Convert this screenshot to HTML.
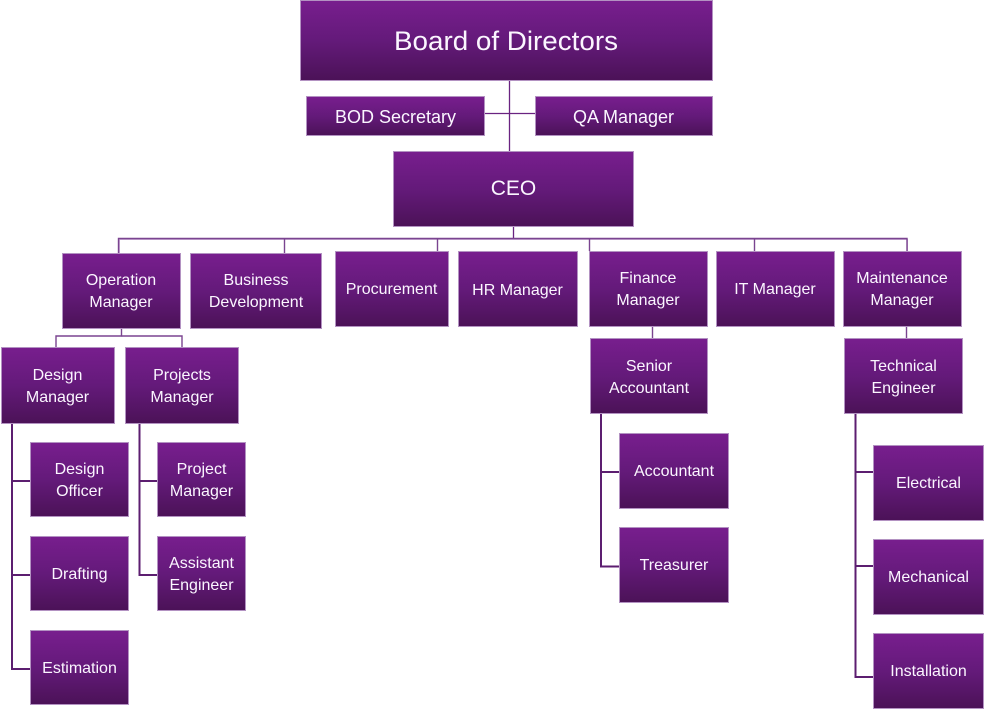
<!DOCTYPE html>
<html>
<head>
<meta charset="utf-8">
<style>
html,body{margin:0;padding:0;background:#ffffff;}
svg{display:block;}
text{font-family:"Liberation Sans",sans-serif;fill:#fbf6ff;text-anchor:middle;}
</style>
</head>
<body>
<svg width="984" height="709" viewBox="0 0 984 709" xmlns="http://www.w3.org/2000/svg">
<defs>
<linearGradient id="g" x1="0" y1="0" x2="0" y2="1">
<stop offset="0" stop-color="#781e8e"/>
<stop offset="0.5" stop-color="#641a7a"/>
<stop offset="1" stop-color="#4b1257"/>
</linearGradient>
</defs>

<!-- connectors top -->
<g stroke="#6a2381" stroke-width="1.3" fill="none">
<line x1="509.5" y1="80" x2="509.5" y2="151"/>
<line x1="484" y1="113.5" x2="535" y2="113.5"/>
<line x1="513.5" y1="226" x2="513.5" y2="238.5"/>
</g>
<!-- bus -->
<g stroke="#c9a9d4" stroke-width="1" fill="none">
<polyline points="119.5,253 119.5,239.5 907.5,239.5 907.5,253"/>
</g>
<g stroke="#7a4490" stroke-width="1.4" fill="none">
<polyline points="118.5,253 118.5,238.5 907,238.5 907,251"/>
<line x1="284.5" y1="238.5" x2="284.5" y2="253"/>
<line x1="437.5" y1="238.5" x2="437.5" y2="251"/>
<line x1="589.5" y1="238.5" x2="589.5" y2="251"/>
<line x1="754.5" y1="238.5" x2="754.5" y2="251"/>
<polyline points="121.5,328 121.5,336 56,336 56,347"/>
<polyline points="121.5,336 182,336 182,347"/>
<line x1="652.5" y1="327" x2="652.5" y2="338"/>
<line x1="906.5" y1="327" x2="906.5" y2="338"/>
</g>
<!-- lower branch connectors -->
<g stroke="#5c1e70" stroke-width="2" fill="none">
<polyline points="12,423 12,669 30,669"/>
<line x1="12" y1="481" x2="30" y2="481"/>
<line x1="12" y1="575" x2="30" y2="575"/>
<polyline points="139.5,423 139.5,575 157,575"/>
<line x1="139.5" y1="481" x2="157" y2="481"/>
<polyline points="601,414 601,566.5 619,566.5"/>
<line x1="601" y1="472" x2="619" y2="472"/>
<polyline points="855.5,414 855.5,677 873,677"/>
<line x1="855.5" y1="472" x2="873" y2="472"/>
<line x1="855.5" y1="566" x2="873" y2="566"/>
</g>

<!-- boxes -->
<g fill="url(#g)" stroke="#b392c2" stroke-width="1">
<rect x="300.5" y="0.5" width="412" height="80"/>
<rect x="306.5" y="96.5" width="178" height="39"/>
<rect x="535.5" y="96.5" width="177" height="39"/>
<rect x="393.5" y="151.5" width="240" height="75"/>

<rect x="62.5" y="253.5" width="118" height="75"/>
<rect x="190.5" y="253.5" width="131" height="75"/>
<rect x="335.5" y="251.5" width="113" height="75"/>
<rect x="458.5" y="251.5" width="119" height="75"/>
<rect x="589.5" y="251.5" width="118" height="75"/>
<rect x="716.5" y="251.5" width="118" height="75"/>
<rect x="843.5" y="251.5" width="118" height="75"/>

<rect x="1.5" y="347.5" width="113" height="76"/>
<rect x="125.5" y="347.5" width="113" height="76"/>
<rect x="590.5" y="338.5" width="117" height="75"/>
<rect x="844.5" y="338.5" width="118" height="75"/>

<rect x="30.5" y="442.5" width="98" height="74"/>
<rect x="30.5" y="536.5" width="98" height="74"/>
<rect x="30.5" y="630.5" width="98" height="74"/>
<rect x="157.5" y="442.5" width="88" height="74"/>
<rect x="157.5" y="536.5" width="88" height="74"/>

<rect x="619.5" y="433.5" width="109" height="75"/>
<rect x="619.5" y="527.5" width="109" height="75"/>

<rect x="873.5" y="445.5" width="110" height="75"/>
<rect x="873.5" y="539.5" width="110" height="75"/>
<rect x="873.5" y="633.5" width="110" height="75"/>
</g>

<!-- labels -->
<text x="506" y="50" font-size="27" textLength="224" lengthAdjust="spacingAndGlyphs">Board of Directors</text>
<text x="395.5" y="123" font-size="18">BOD Secretary</text>
<text x="623.5" y="123" font-size="18">QA Manager</text>
<text x="513.5" y="195" font-size="21">CEO</text>

<g font-size="16">
<text x="121" y="285">Operation</text>
<text x="121" y="307">Manager</text>
<text x="256" y="285">Business</text>
<text x="256" y="307">Development</text>
<text x="391.5" y="294">Procurement</text>
<text x="517.5" y="295">HR Manager</text>
<text x="648" y="283">Finance</text>
<text x="648" y="305">Manager</text>
<text x="775" y="294">IT Manager</text>
<text x="902" y="283">Maintenance</text>
<text x="902" y="305">Manager</text>

<text x="57.5" y="380">Design</text>
<text x="57.5" y="402">Manager</text>
<text x="182" y="380">Projects</text>
<text x="182" y="402">Manager</text>
<text x="649" y="371">Senior</text>
<text x="649" y="393">Accountant</text>
<text x="903.5" y="371">Technical</text>
<text x="903.5" y="393">Engineer</text>

<text x="79.5" y="474">Design</text>
<text x="79.5" y="496">Officer</text>
<text x="79.5" y="579">Drafting</text>
<text x="79.5" y="673">Estimation</text>
<text x="201.5" y="474">Project</text>
<text x="201.5" y="496">Manager</text>
<text x="201.5" y="568">Assistant</text>
<text x="201.5" y="590">Engineer</text>

<text x="674" y="476">Accountant</text>
<text x="674" y="570">Treasurer</text>

<text x="928.5" y="488">Electrical</text>
<text x="928.5" y="582">Mechanical</text>
<text x="928.5" y="676">Installation</text>
</g>
</svg>
</body>
</html>
